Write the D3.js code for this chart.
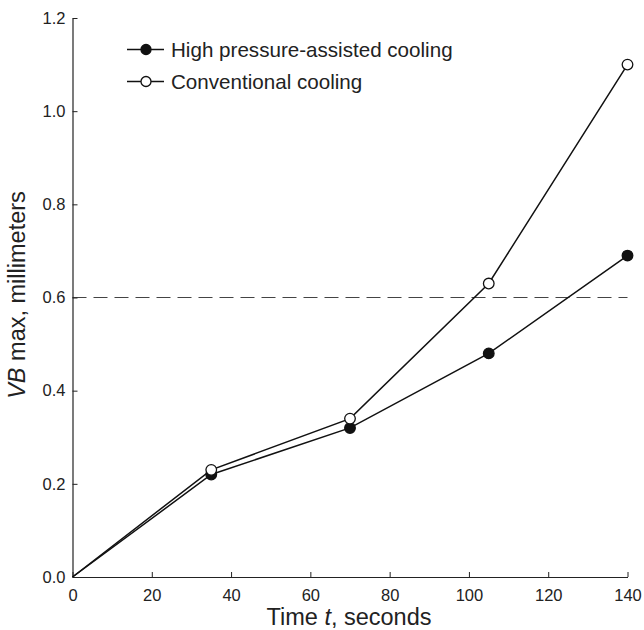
<!DOCTYPE html>
<html><head><meta charset="utf-8">
<script src="https://cdn.jsdelivr.net/npm/d3@7"></script>
<style>body{margin:0;background:#fff}svg{display:block;font-family:"Liberation Sans",Arial,sans-serif}</style>
</head><body><svg id="c" width="644" height="630"></svg>
<script>
const times = [0, 35, 70, 105, 140];
const highPressure = [0, 0.22, 0.32, 0.48, 0.69];
const conventional = [0, 0.23, 0.34, 0.63, 1.10];
const threshold = 0.6;
const xTicks = [0, 20, 40, 60, 80, 100, 120, 140];
const yTicks = [0, 0.2, 0.4, 0.6, 0.8, 1.0, 1.2];
const seriesNames = ["High pressure-assisted cooling", "Conventional cooling"];

const svg = d3.select("#c");
const x = d3.scaleLinear().domain([0, 140]).range([72.5, 627.5]);
const y = d3.scaleLinear().domain([0, 1.2]).range([577, 18]);

svg.append("line").attr("x1", x(0)).attr("x2", x(140)).attr("y1", y(threshold)).attr("y2", y(threshold))
  .attr("stroke", "#444").attr("stroke-width", 1.2).attr("stroke-dasharray", "14,7");

const xAxis = svg.append("g").attr("transform", `translate(0,${y(0)})`)
  .call(d3.axisBottom(x).tickValues(xTicks).tickFormat(d3.format("d")).tickSizeInner(-5).tickSizeOuter(0).tickPadding(12));
const yAxis = svg.append("g").attr("transform", `translate(${x(0)},0)`)
  .call(d3.axisLeft(y).tickValues(yTicks).tickFormat(d3.format(".1f")).tickSizeInner(-5).tickSizeOuter(0).tickPadding(7));
[xAxis, yAxis].forEach(g => {
  g.select(".domain").attr("stroke", "#222").attr("stroke-width", 1.2);
  g.selectAll(".tick line").attr("stroke", "#222");
  g.selectAll("text").attr("font-size", 16.5).attr("fill", "#222").attr("font-family", '"Liberation Sans",Arial,sans-serif');
});
xAxis.selectAll("text").attr("dy", "0.71em");

const line = d3.line().x((d, i) => x(times[i])).y(d => y(d));
[[highPressure, "#111"], [conventional, "#fff"]].forEach(([vals, fill]) => {
  svg.append("path").datum(vals).attr("d", line).attr("fill", "none").attr("stroke", "#111").attr("stroke-width", 1.5);
  svg.selectAll(null).data(vals.slice(1)).enter().append("circle")
    .attr("cx", (d, i) => x(times[i + 1])).attr("cy", d => y(d)).attr("r", 5.3)
    .attr("fill", fill).attr("stroke", "#111").attr("stroke-width", 1.3);
});

// legend
const leg = [[seriesNames[0], "#111", 49.5], [seriesNames[1], "#fff", 81.5]];
leg.forEach(([name, fill, ly]) => {
  svg.append("line").attr("x1", 127).attr("x2", 164).attr("y1", ly).attr("y2", ly).attr("stroke", "#111").attr("stroke-width", 1.5);
  svg.append("circle").attr("cx", 146).attr("cy", ly).attr("r", 5).attr("fill", fill).attr("stroke", "#111").attr("stroke-width", 1.3);
  svg.append("text").attr("x", 171).attr("y", ly).attr("dy", "0.35em").attr("font-size", 20.6).attr("fill", "#222").text(name);
});

// axis titles
const xt = svg.append("text").attr("x", 349).attr("y", 625).attr("text-anchor", "middle").attr("font-size", 23.5).attr("fill", "#222");
xt.append("tspan").text("Time ");
xt.append("tspan").attr("font-style", "italic").text("t");
xt.append("tspan").text(", seconds");

const yt = svg.append("text").attr("transform", `translate(25,295) rotate(-90)`).attr("text-anchor", "middle").attr("font-size", 23.5).attr("fill", "#222");
yt.append("tspan").attr("font-style", "italic").text("VB");
yt.append("tspan").text(" max, millimeters");
</script></body></html>
